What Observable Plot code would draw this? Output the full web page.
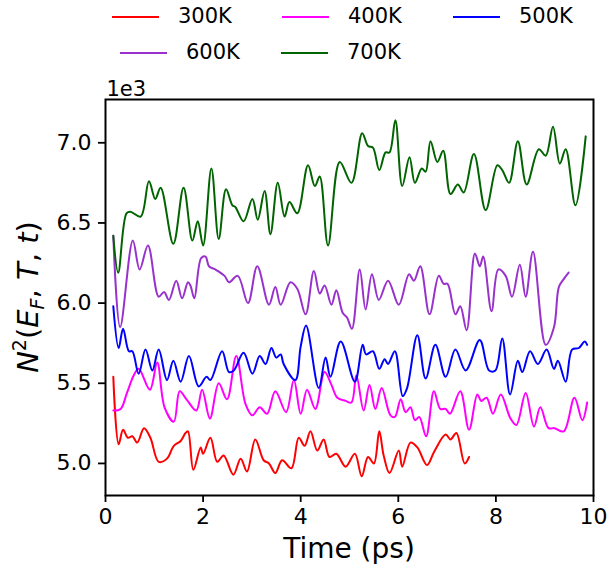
<!DOCTYPE html>
<html><head><meta charset="utf-8">
<script src="https://cdn.jsdelivr.net/npm/d3@7"></script>
<script src="https://cdn.jsdelivr.net/npm/@observablehq/plot@0.6"></script>
<style>
body{margin:0;background:#fff;font-family:"DejaVu Sans",sans-serif;}
#legend{position:relative;width:608px;height:75px;}
.sw{position:absolute;height:2px;}
.lb{position:absolute;font-size:21px;line-height:21px;color:#000;white-space:nowrap;}
</style></head><body>
<div id="legend"></div>
<div id="chart"></div>
<script>
const temps = ["300K","400K","500K","600K","700K"];
const colors = ["#ff0000","#ff00ff","#0000ff","#9932cc","#006400"];
const xTicks = [0,2,4,6,8,10];
const yTicks = [5.0,5.5,6.0,6.5,7.0];
const offsetLabel = "1e3";

const s300 = [[0.16,5.54],[0.27,5.12],[0.36,5.21],[0.46,5.16],[0.55,5.17],[0.65,5.13],[0.79,5.22],[0.92,5.16],[1.09,5.01],[1.26,5.03],[1.40,5.11],[1.54,5.14],[1.64,5.19],[1.69,5.20],[1.80,4.96],[1.95,5.10],[2.00,5.06],[2.15,5.16],[2.29,5.01],[2.42,5.05],[2.62,4.93],[2.77,5.03],[2.90,4.95],[3.07,5.15],[3.24,5.02],[3.35,5.00],[3.48,4.94],[3.62,5.02],[3.81,4.97],[3.96,5.16],[4.08,5.11],[4.20,5.20],[4.34,5.08],[4.47,5.15],[4.59,5.04],[4.73,5.06],[4.92,4.98],[5.11,5.06],[5.25,4.92],[5.38,5.04],[5.50,5.00],[5.61,5.20],[5.70,5.05],[5.82,4.94],[6.01,5.08],[6.08,4.98],[6.25,5.13],[6.39,5.10],[6.59,4.99],[6.73,5.07],[6.97,5.18],[7.07,5.15],[7.19,5.19],[7.36,5.00],[7.45,5.04]];
const s400 = [[0.16,5.33],[0.31,5.34],[0.44,5.44],[0.58,5.55],[0.68,5.59],[0.91,5.46],[1.06,5.63],[1.21,5.35],[1.40,5.26],[1.52,5.45],[1.66,5.40],[1.86,5.33],[1.98,5.46],[2.14,5.28],[2.32,5.50],[2.49,5.40],[2.68,5.67],[2.87,5.37],[3.01,5.30],[3.16,5.35],[3.31,5.31],[3.48,5.45],[3.70,5.32],[3.86,5.52],[4.00,5.31],[4.13,5.46],[4.30,5.34],[4.49,5.57],[4.63,5.49],[4.75,5.41],[4.92,5.39],[5.04,5.38],[5.14,5.55],[5.29,5.33],[5.41,5.49],[5.53,5.34],[5.66,5.47],[5.84,5.30],[5.93,5.29],[6.05,5.40],[6.15,5.32],[6.25,5.35],[6.34,5.27],[6.43,5.29],[6.57,5.17],[6.73,5.45],[6.86,5.34],[6.97,5.34],[7.06,5.31],[7.27,5.45],[7.45,5.21],[7.62,5.43],[7.70,5.39],[7.81,5.41],[7.94,5.31],[8.10,5.43],[8.30,5.28],[8.42,5.24],[8.61,5.44],[8.78,5.23],[8.91,5.35],[9.08,5.22],[9.20,5.22],[9.39,5.20],[9.61,5.41],[9.77,5.27],[9.87,5.38]];
const s500 = [[0.16,5.98],[0.27,5.72],[0.36,5.84],[0.48,5.70],[0.55,5.70],[0.68,5.56],[0.82,5.71],[0.96,5.58],[1.09,5.71],[1.26,5.52],[1.39,5.64],[1.54,5.51],[1.71,5.67],[1.91,5.48],[2.07,5.54],[2.15,5.52],[2.39,5.70],[2.53,5.57],[2.63,5.58],[2.83,5.69],[3.01,5.56],[3.16,5.67],[3.28,5.62],[3.40,5.72],[3.50,5.66],[3.59,5.68],[3.65,5.62],[3.89,5.52],[4.00,5.73],[4.11,5.86],[4.37,5.47],[4.51,5.66],[4.61,5.54],[4.82,5.76],[5.11,5.51],[5.27,5.74],[5.34,5.68],[5.48,5.70],[5.61,5.59],[5.72,5.65],[5.79,5.62],[5.93,5.70],[6.09,5.42],[6.18,5.47],[6.39,5.80],[6.56,5.53],[6.76,5.74],[6.97,5.54],[7.17,5.71],[7.38,5.58],[7.67,5.77],[7.86,5.58],[7.99,5.58],[8.13,5.78],[8.29,5.43],[8.45,5.64],[8.54,5.57],[8.70,5.70],[8.86,5.62],[9.04,5.71],[9.19,5.59],[9.27,5.64],[9.43,5.51],[9.56,5.71],[9.70,5.72],[9.82,5.76],[9.87,5.74]];
const s600 = [[0.16,6.42],[0.30,5.85],[0.56,6.39],[0.70,6.21],[0.87,6.36],[1.09,6.04],[1.20,6.07],[1.30,6.02],[1.45,6.14],[1.57,6.03],[1.69,6.13],[1.74,6.11],[1.82,6.03],[1.96,6.28],[2.05,6.29],[2.12,6.23],[2.25,6.21],[2.44,6.17],[2.53,6.13],[2.71,6.17],[2.92,6.00],[3.11,6.23],[3.35,5.99],[3.48,6.10],[3.59,5.99],[3.79,6.13],[3.93,6.09],[4.10,5.93],[4.27,6.20],[4.39,6.06],[4.49,6.11],[4.63,5.99],[4.73,6.08],[4.86,5.94],[4.95,5.91],[5.05,5.84],[5.21,6.21],[5.33,5.96],[5.46,6.18],[5.60,6.02],[5.79,6.14],[6.01,5.99],[6.22,6.18],[6.32,6.14],[6.45,6.23],[6.64,5.93],[6.83,6.17],[6.93,6.12],[7.01,6.12],[7.17,5.93],[7.27,5.98],[7.40,5.83],[7.57,6.31],[7.67,6.23],[7.74,6.29],[7.91,5.95],[8.05,6.21],[8.20,6.17],[8.33,6.04],[8.49,6.24],[8.61,6.04],[8.76,6.32],[9.02,5.74],[9.19,5.85],[9.29,6.10],[9.39,6.15],[9.49,6.19]];
const s700 = [[0.16,6.42],[0.26,6.19],[0.43,6.56],[0.51,6.57],[0.72,6.54],[0.89,6.76],[1.02,6.65],[1.13,6.72],[1.39,6.37],[1.60,6.72],[1.78,6.39],[1.89,6.51],[2.00,6.36],[2.17,6.84],[2.32,6.40],[2.47,6.71],[2.60,6.61],[2.66,6.60],[2.83,6.51],[3.01,6.65],[3.12,6.52],[3.26,6.70],[3.38,6.43],[3.53,6.75],[3.67,6.54],[3.77,6.63],[3.93,6.56],[4.15,6.86],[4.29,6.73],[4.39,6.79],[4.56,6.36],[4.80,6.88],[5.04,6.75],[5.26,7.06],[5.38,6.98],[5.48,6.97],[5.61,6.83],[5.74,6.94],[5.82,6.94],[5.94,7.14],[6.08,6.73],[6.23,6.91],[6.34,6.75],[6.48,6.84],[6.56,6.82],[6.66,7.01],[6.80,6.88],[6.92,6.95],[7.07,6.68],[7.22,6.74],[7.34,6.69],[7.55,6.93],[7.79,6.58],[8.03,6.86],[8.13,6.83],[8.27,6.75],[8.45,7.01],[8.63,6.74],[8.88,6.96],[9.02,6.92],[9.17,7.10],[9.31,6.87],[9.43,6.96],[9.63,6.61],[9.84,7.04]];

const series = [s300, s400, s500, s600, s700];
const data = [];
series.forEach((arr, i) => arr.forEach(([t, v]) => data.push({t, v, T: temps[i]})));

// legend (HTML, above the SVG)
const legendPos = [[112,17],[282,17],[453,17],[120,53],[281,53]];
const leg = document.getElementById("legend");
temps.forEach((name, i) => {
  const [lx, ly] = legendPos[i];
  const sw = document.createElement("div");
  sw.className = "sw";
  sw.style.left = lx + "px"; sw.style.top = (ly - 1) + "px";
  sw.style.width = "47px"; sw.style.background = colors[i];
  leg.appendChild(sw);
  const lb = document.createElement("div");
  lb.className = "lb";
  lb.style.left = (lx + 66) + "px"; lb.style.top = (ly - 11) + "px";
  lb.textContent = name;
  leg.appendChild(lb);
});

const svg = Plot.plot({
  width: 608, height: 496,
  marginLeft: 105, marginRight: 15, marginTop: 24, marginBottom: 76,
  x: {domain: [0, 10]},
  y: {domain: [4.80, 7.27]},
  color: {domain: temps, range: colors},
  style: {fontFamily: "DejaVu Sans", fontSize: "22px", color: "black", background: "white", overflow: "visible"},
  marks: [
    Plot.line(data, {x: "t", y: "v", z: "T", stroke: "T", strokeWidth: 2, curve: "catmull-rom"}),
    Plot.frame({stroke: "black", strokeWidth: 2}),
    Plot.axisX({ticks: xTicks, tickSize: 7, tickPadding: 6, strokeWidth: 1.8, fontSize: 22, label: null, tickFormat: d => String(d)}),
    Plot.axisY({ticks: yTicks, tickSize: 7, tickPadding: 7, strokeWidth: 1.8, fontSize: 22, label: null, tickFormat: d3.format(".1f")}),
    Plot.text([offsetLabel], {text: d => d, frameAnchor: "top-left", textAnchor: "start", lineAnchor: "bottom", dx: 1, dy: -4, fontSize: 21})
  ]
});
document.getElementById("chart").appendChild(svg);

const s = d3.select(svg);
s.append("text")
  .attr("x", 349).attr("y", 483)
  .attr("text-anchor", "middle")
  .style("font-family", "DejaVu Sans").style("font-size", "28px").attr("fill", "black")
  .text("Time (ps)");

const yl = s.append("text")
  .attr("transform", "translate(38,222) rotate(-90)")
  .attr("text-anchor", "middle")
  .style("font-family", "DejaVu Sans").style("font-size", "29px").attr("fill", "black");
const parts = [
  ["N", true, 0, 29], ["2", false, -12, 19], ["(", false, 12, 29], ["E", true, 0, 29],
  ["F", true, 6, 19], [", ", false, -6, 29], ["T", true, 0, 29], [", ", false, 0, 29],
  ["t", true, 0, 29], [")", false, 0, 29]
];
parts.forEach(([txt, it, dy, fs]) => {
  yl.append("tspan").attr("dy", dy).style("font-style", it ? "italic" : "normal")
    .style("font-size", fs + "px").text(txt);
});
</script>
</body></html>
